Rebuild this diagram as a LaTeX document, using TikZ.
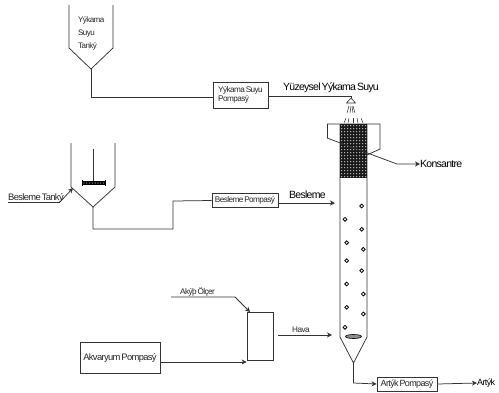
\documentclass[tikz,border=0pt]{standalone}
\usepackage{fontspec}
\setmainfont{Liberation Sans}[LetterSpace=-7,WordSpace=0.5]
\usetikzlibrary{arrows.meta}
\tikzset{
 pipe/.style={draw=black!80,line width=0.75pt},
 flow/.style={pipe,-{Stealth[length=5pt,width=5pt,inset=1.5pt]}},
 unit/.style={draw=black!80,line width=0.75pt,inner sep=0pt,fill=white},
 lbl/.style={inner sep=0pt,font=\fontsize{8.2}{9.5}\selectfont,text=black!85},
 biglbl/.style={inner sep=0pt,font=\fontsize{10.5}{12}\selectfont,text=black},
 bubble/.style={draw=black,line width=0.8pt,circle,minimum size=3.8pt,inner sep=0pt},
}
\begin{document}
\begin{tikzpicture}[x=1pt,y=-1pt]
\useasboundingbox (0,0) rectangle (499,392);
% wash tank
\draw[pipe] (69,5) -- (69,48) -- (91,69) coordinate (wt) -- (113,48) -- (113,5);
\node[lbl,align=left,anchor=north west,font=\fontsize{8}{13}\selectfont] (washlabel) at (78,16) {Yýkama\\Suyu\\Tanký};
\node[unit,lbl,minimum width=55pt,minimum height=26pt,align=left] (wp) at (240.5,95) {Yýkama Suyu\\Pompasý};
\draw[pipe] (wt) -- (91,97) -- (wp.west |- 0,97);
% spray
\coordinate (noz) at (351,98);
\draw[pipe] (wp.east |- 0,96) -- (351,96) -- (noz);
\draw[pipe,line width=0.6pt] (351,98) -- (346.5,103) -- (355.5,103) -- cycle;
\foreach \a/\b in {349/347,351/350,352/353,353/355}{\draw[black!80,line width=0.5pt] (\a,106) -- (\b,113);}
\foreach \a/\b in {346/344,349/348,353/353,357/358,361/363}{\draw[black!80,line width=0.5pt] (\a,118) -- (\b,123);}
\node[biglbl,anchor=west] (surf) at (283,88) {Yüzeysel Yýkama Suyu};
% column
\draw[pipe] (340,124) -- (340,337) -- (353.5,363) coordinate (ct) -- (367,337) -- (367,124);
\draw[pipe] (327,124) -- (380,124) -- (380,149) -- (367,155);
\draw[pipe] (327,124) -- (327,138);
% packing
\fill[black!90] (340,124) rectangle (367,178);
\foreach \i in {0,...,8}{\foreach \j in {0,...,17}{\fill[white!75!black] (341.7+3*\i,125.7+3*\j) circle (0.7pt);}}
\node[biglbl,anchor=west] (kons) at (420,164) {Konsantre};
\draw[flow] (327,138) -- (397,164) -- (kons.west);
% bubbles
\foreach \x/\y in {361.7/206,345/219.3,361.7/229.3,346.7/242.7,363.3/249.3,346.7/260.7,361.7/270.7,346.7/284,363.3/294,346.7/307.3,363.3/314,345/327.3}{\node[bubble] at (\x,\y) {};}
\draw[draw=black,fill=black!45,line width=0.6pt] (353.5,336.5) ellipse (8pt and 2pt);
% feed tank
\draw[pipe] (71,143) -- (71,187) -- (93,207) coordinate (ft) -- (115,187) -- (115,143);
\draw[pipe] (93,149) -- (93,183);
\fill[black] (82.5,181) rectangle (104.5,185);
\foreach \i in {0,...,7}{\fill[white!70!black] (84+2.8*\i,183) circle (0.6pt);}
\draw[black,line width=0.6pt] (82,180) -- (82,186) (105,180) -- (105,186);
\node[lbl,anchor=west,font=\fontsize{9.4}{11}\selectfont] (ftl) at (8,198) {Besleme Tanký};
\coordinate (ftu) at (60,202);
\draw[pipe,line width=0.6pt] (8,202) -- (ftu);
\draw[flow] (ftu) -- (73,188);
\node[unit,lbl,minimum width=66pt,minimum height=14pt] (fp) at (245,200.5) {Besleme Pompasý};
\draw[pipe] (ft) -- (93,229) -- (173,229) -- (173,201) -- (fp.west);
\node[biglbl,anchor=west] (feed) at (289,195) {Besleme};
\coordinate (colfeed) at (335,203);
\draw[flow] (fp.east |- colfeed) -- (colfeed);
% air
\node[unit,minimum width=26pt,minimum height=48pt] (fm) at (260,336) {};
\node[unit,lbl,minimum width=80pt,minimum height=31pt,font=\fontsize{9.4}{11}\selectfont] (ap) at (120,358) {Akvaryum Pompasý};
\draw[flow] (ap.east |- 0,362) -- (fm.west |- 0,362);
\coordinate (afs) at (171,297);
\node[lbl,anchor=west] (afl) at (180,291.5) {Akýþ Ölçer};
\draw[flow] (afs) -- (235,297) -- (250,312);
\coordinate (haves) at (278,335);
\coordinate (havee) at (332,335);
\node[lbl,anchor=west] (hv) at (292,330) {Hava};
\draw[flow] (haves) -- (havee);
% tailings
\node[unit,lbl,minimum width=60pt,minimum height=14pt,font=\fontsize{9}{11}\selectfont] (tp) at (407,384) {Artýk Pompasý};
\draw[flow] (ct) -- (353.5,383) -- (tp.west);
\node[biglbl,anchor=west,font=\fontsize{9}{11}\selectfont] (tl) at (477,383) {Artýk};
\draw[flow] (tp.east) -- (tl.west);
\end{tikzpicture}
\end{document}
